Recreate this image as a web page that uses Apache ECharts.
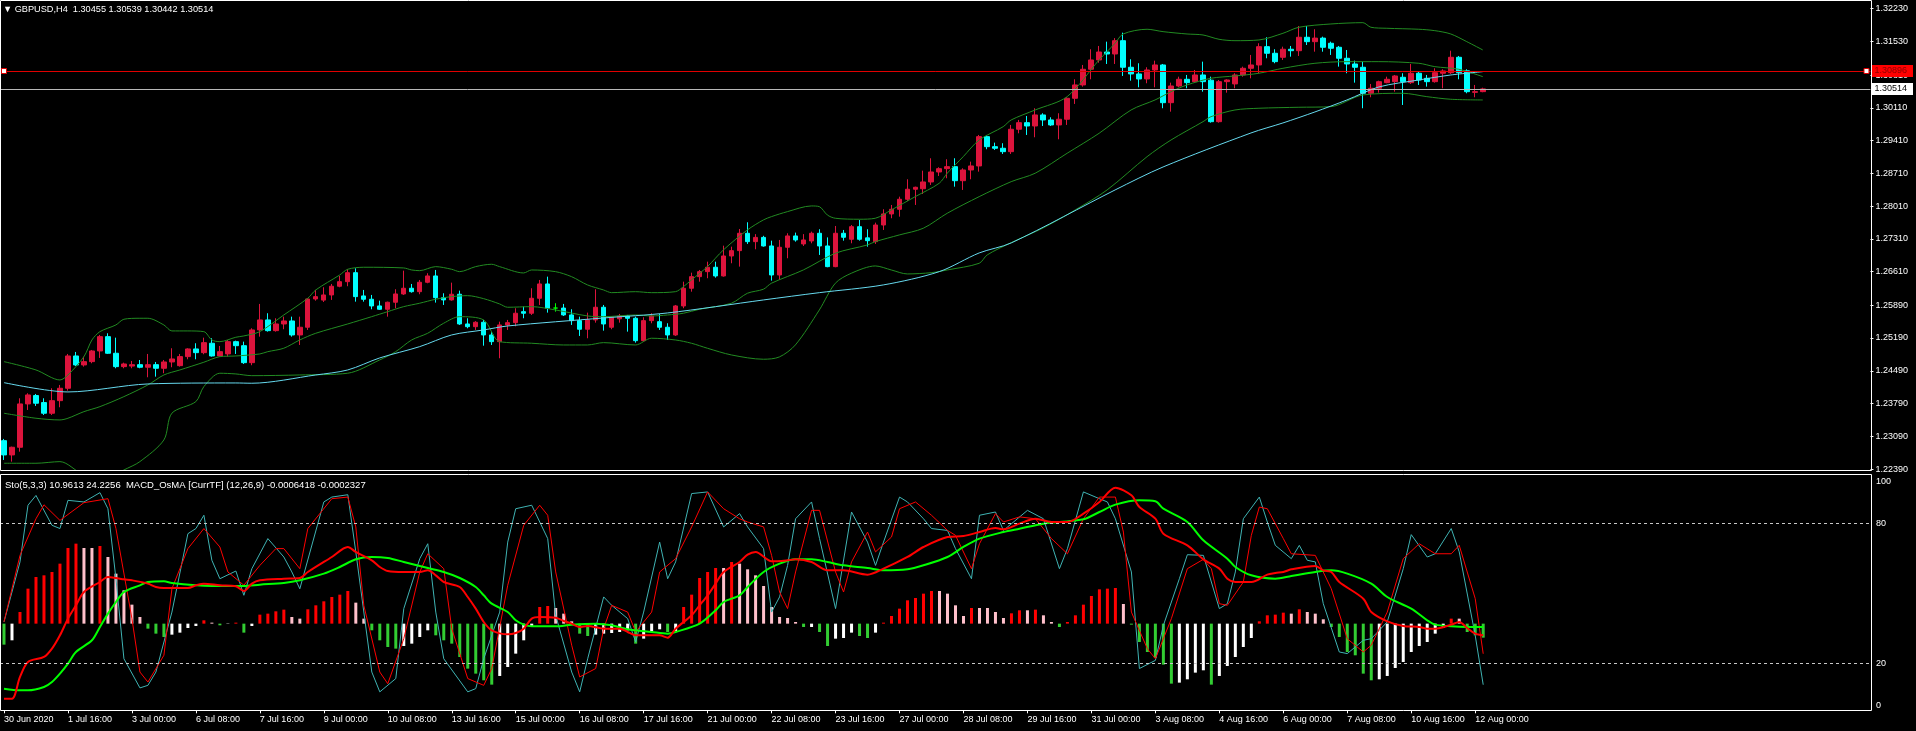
<!DOCTYPE html>
<html>
<head>
<meta charset="utf-8">
<title>GBPUSD,H4</title>
<script src="https://cdn.jsdelivr.net/npm/echarts@6.0.0/dist/echarts.min.js"></script>
<style>
html, body { margin: 0; padding: 0; background: #000; }
#chart { width: 1916px; height: 731px; }
</style>
</head>
<body>
<div id="chart"></div>
<script>
// GBPUSD H4 bars, 30 Jun 2020 08:00 .. 12 Aug 2020 04:00, [open, high, low, close]
var ohlc = [
  [1.22996,1.23033,1.22584,1.22691],[1.22691,1.22868,1.22548,1.22855],[1.22855,1.23902,1.22761,1.23781],[1.23781,1.24009,1.23652,1.23973],
  [1.23960,1.23994,1.23738,1.23796],[1.23810,1.23902,1.23545,1.23582],[1.23582,1.24116,1.23545,1.23851],[1.23851,1.24187,1.23710,1.24116],
  [1.24116,1.24849,1.24065,1.24806],[1.24806,1.24892,1.24590,1.24614],[1.24614,1.24792,1.24578,1.24685],[1.24685,1.24934,1.24650,1.24913],
  [1.24913,1.25255,1.24764,1.25219],[1.25219,1.25291,1.24849,1.24864],[1.24864,1.25197,1.24543,1.24578],[1.24578,1.24663,1.24543,1.24635],
  [1.24590,1.24699,1.24543,1.24620],[1.24620,1.24720,1.24543,1.24565],[1.24565,1.24849,1.24351,1.24620],[1.24620,1.24678,1.24364,1.24543],
  [1.24543,1.24720,1.24437,1.24678],[1.24678,1.24971,1.24565,1.24742],[1.24599,1.24849,1.24578,1.24792],[1.24792,1.24971,1.24735,1.24956],
  [1.24956,1.25078,1.24735,1.24877],[1.24877,1.25197,1.24843,1.25091],[1.25078,1.25184,1.24792,1.24806],[1.24806,1.25020,1.24792,1.24898],
  [1.24850,1.25148,1.24792,1.25112],[1.25112,1.25133,1.24849,1.25026],[1.25026,1.25112,1.24635,1.24663],[1.24663,1.25398,1.24608,1.25362],
  [1.25362,1.25918,1.25219,1.25576],[1.25576,1.25719,1.25326,1.25347],[1.25347,1.25612,1.25326,1.25490],[1.25490,1.25646,1.25377,1.25554],
  [1.25554,1.25646,1.25219,1.25255],[1.25255,1.25646,1.25041,1.25420],[1.25420,1.26039,1.25362,1.26024],[1.26024,1.26217,1.25988,1.26074],
  [1.26000,1.26274,1.25960,1.26110],[1.26110,1.26345,1.26004,1.26296],[1.26296,1.26516,1.26274,1.26394],[1.26394,1.26659,1.26296,1.26586],
  [1.26586,1.26680,1.25967,1.26074],[1.26089,1.26217,1.25967,1.26018],[1.26018,1.26110,1.25804,1.25875],[1.25875,1.25988,1.25789,1.25804],
  [1.25804,1.25967,1.25646,1.25954],[1.25954,1.26232,1.25825,1.26131],[1.26131,1.26629,1.26110,1.26253],[1.26253,1.26345,1.26159,1.26180],
  [1.26180,1.26430,1.26125,1.26381],[1.26381,1.26574,1.26360,1.26516],[1.26516,1.26644,1.25946,1.26052],[1.26052,1.26146,1.25896,1.26004],
  [1.26004,1.26373,1.25988,1.26125],[1.26125,1.26202,1.25469,1.25490],[1.25490,1.25612,1.25398,1.25432],[1.25432,1.25550,1.25362,1.25526],
  [1.25526,1.25576,1.25026,1.25255],[1.25255,1.25326,1.25041,1.25112],[1.25112,1.25539,1.24757,1.25469],[1.25469,1.25576,1.25362,1.25518],
  [1.25518,1.25826,1.25440,1.25719],[1.25753,1.25860,1.25612,1.25719],[1.25719,1.26253,1.25683,1.26039],[1.26039,1.26430,1.25896,1.26345],
  [1.26345,1.26501,1.25732,1.25826],[1.25830,1.25933,1.25753,1.25830],[1.25830,1.25918,1.25661,1.25683],[1.25683,1.25804,1.25469,1.25561],
  [1.25561,1.25646,1.25234,1.25377],[1.25377,1.25732,1.25184,1.25576],[1.25576,1.26232,1.25518,1.25847],[1.25847,1.25896,1.25347,1.25490],
  [1.25420,1.25646,1.25377,1.25633],[1.25600,1.25704,1.25518,1.25661],[1.25661,1.25683,1.25326,1.25612],[1.25612,1.25646,1.25091,1.25133],
  [1.25133,1.25633,1.25112,1.25561],[1.25561,1.25719,1.25505,1.25661],[1.25539,1.25704,1.25362,1.25420],[1.25420,1.25505,1.25148,1.25255],
  [1.25255,1.25896,1.25234,1.25875],[1.25875,1.26394,1.25826,1.26253],[1.26253,1.26586,1.26180,1.26501],[1.26501,1.26644,1.26394,1.26608],
  [1.26608,1.26821,1.26467,1.26702],[1.26702,1.26821,1.26480,1.26516],[1.26516,1.27163,1.26501,1.26943],[1.26943,1.27142,1.26787,1.27057],
  [1.27057,1.27520,1.26715,1.27428],[1.27428,1.27663,1.27200,1.27249],[1.27249,1.27410,1.27086,1.27340],[1.27340,1.27374,1.27142,1.27157],
  [1.27157,1.27270,1.26416,1.26537],[1.26537,1.27285,1.26430,1.27129],[1.27129,1.27428,1.26894,1.27371],[1.27371,1.27442,1.27249,1.27285],
  [1.27200,1.27410,1.27157,1.27285],[1.27264,1.27463,1.27214,1.27428],[1.27428,1.27514,1.26965,1.27157],[1.27157,1.27340,1.26702,1.26715],
  [1.26715,1.27584,1.26702,1.27428],[1.27428,1.27499,1.27270,1.27343],[1.27300,1.27605,1.27214,1.27569],[1.27569,1.27713,1.27270,1.27300],
  [1.27330,1.27514,1.27142,1.27270],[1.27249,1.27655,1.27200,1.27605],[1.27605,1.27941,1.27499,1.27841],[1.27841,1.28033,1.27749,1.27941],
  [1.27941,1.28210,1.27783,1.28155],[1.28155,1.28582,1.28119,1.28369],[1.28369,1.28424,1.28033,1.28411],[1.28380,1.28766,1.28268,1.28525],
  [1.28525,1.29031,1.28461,1.28738],[1.28738,1.28839,1.28653,1.28809],[1.28809,1.29010,1.28604,1.28852],[1.28852,1.29031,1.28424,1.28552],
  [1.28552,1.28817,1.28354,1.28781],[1.28781,1.28959,1.28582,1.28867],[1.28867,1.29529,1.28745,1.29493],[1.29493,1.29529,1.29224,1.29279],
  [1.29279,1.29365,1.29209,1.29245],[1.29245,1.29352,1.29123,1.29172],[1.29172,1.29743,1.29123,1.29651],[1.29651,1.29850,1.29565,1.29792],
  [1.29792,1.29935,1.29529,1.29721],[1.29721,1.30100,1.29480,1.29957],[1.29957,1.29993,1.29721,1.29850],[1.29850,1.29907,1.29721,1.29743],
  [1.29743,1.29993,1.29437,1.29865],[1.29865,1.30335,1.29743,1.30313],[1.30313,1.30719,1.30192,1.30598],[1.30598,1.31025,1.30562,1.30933],
  [1.30933,1.31361,1.30719,1.31132],[1.31132,1.31431,1.31074,1.31302],[1.31302,1.31523,1.31046,1.31260],[1.31260,1.31599,1.31046,1.31544],
  [1.31544,1.31715,1.30790,1.30976],[1.30976,1.31147,1.30689,1.30833],[1.30833,1.31061,1.30548,1.30726],[1.30726,1.30976,1.30634,1.30918],
  [1.30918,1.31117,1.30548,1.31025],[1.31025,1.31046,1.30100,1.30219],[1.30219,1.30647,1.30027,1.30576],[1.30576,1.30775,1.30548,1.30719],
  [1.30719,1.30811,1.30527,1.30647],[1.30668,1.30918,1.30640,1.30811],[1.30811,1.31096,1.30454,1.30668],[1.30700,1.30775,1.29792,1.29813],
  [1.29813,1.30704,1.29792,1.30668],[1.30668,1.30719,1.30433,1.30704],[1.30620,1.30848,1.30527,1.30811],[1.30811,1.30989,1.30775,1.30954],
  [1.30954,1.31239,1.30740,1.31025],[1.31025,1.31489,1.30848,1.31416],[1.31416,1.31617,1.31168,1.31275],[1.31275,1.31361,1.31061,1.31096],
  [1.31189,1.31416,1.31132,1.31361],[1.31361,1.31431,1.31202,1.31330],[1.31330,1.31858,1.31217,1.31617],[1.31617,1.31858,1.31452,1.31523],
  [1.31523,1.31788,1.31309,1.31599],[1.31599,1.31630,1.31309,1.31403],[1.31489,1.31523,1.31239,1.31382],[1.31403,1.31431,1.30989,1.31168],
  [1.31168,1.31345,1.30848,1.31046],[1.31046,1.31117,1.30647,1.30976],[1.30976,1.31096,1.30100,1.30420],[1.30420,1.30619,1.30335,1.30527],
  [1.30527,1.30689,1.30433,1.30668],[1.30647,1.30775,1.30634,1.30719],[1.30668,1.30811,1.30454,1.30790],[1.30762,1.30848,1.30170,1.30668],
  [1.30647,1.31046,1.30619,1.30848],[1.30848,1.30882,1.30598,1.30704],[1.30740,1.30811,1.30562,1.30668],[1.30668,1.30954,1.30647,1.30860],
  [1.30848,1.30933,1.30527,1.30897],[1.30860,1.31330,1.30833,1.31189],[1.31189,1.31217,1.30719,1.30860],[1.30900,1.30933,1.30420,1.30454],
  [1.30440,1.30598,1.30335,1.30455],[1.30455,1.30539,1.30442,1.30514]
];

// Bollinger bands and moving average, [bar, price]
var bbUpper = [[0,1.24685],[4,1.24507],[7,1.24293],[8,1.24400],[10,1.24791],[11,1.25148],[12,1.25326],[14,1.25469],[15,1.25591],[17,1.25612],[18,1.25612],[20,1.25469],[21,1.25341],[23,1.25341],[25,1.25326],[26,1.25148],[27,1.25112],[29,1.25206],[30,1.25234],[32,1.25326],[35,1.25682],[38,1.26039],[39,1.26217],[42,1.26537],[43,1.26659],[45,1.26702],[50,1.26687],[51,1.26644],[52,1.26629],[54,1.26715],[56,1.26659],[57,1.26608],[59,1.26715],[61,1.26766],[62,1.26715],[65,1.26580],[66,1.26644],[69,1.26608],[71,1.26501],[73,1.26324],[75,1.26217],[76,1.26159],[79,1.26180],[81,1.26159],[84,1.26180],[85,1.26287],[86,1.26430],[88,1.26715],[90,1.27072],[93,1.27499],[95,1.27713],[96,1.27783],[98,1.27890],[101,1.28012],[102,1.27997],[103,1.27819],[104,1.27749],[107,1.27728],[109,1.27749],[111,1.27926],[114,1.28211],[117,1.28497],[118,1.28711],[120,1.29065],[122,1.29422],[125,1.29706],[126,1.29850],[129,1.30063],[133,1.30348],[137,1.31132],[139,1.31489],[140,1.31687],[143,1.31788],[145,1.31737],[148,1.31687],[150,1.31666],[152,1.31574],[154,1.31544],[157,1.31559],[160,1.31702],[162,1.31831],[166,1.31901],[170,1.31929],[171,1.31831],[173,1.31809],[177,1.31788],[179,1.31758],[181,1.31687],[183,1.31523],[185,1.31346]];
var bbMiddle = [[0,1.23582],[4,1.23475],[7,1.23439],[8,1.23475],[10,1.23616],[12,1.23723],[15,1.23937],[18,1.24187],[20,1.24400],[22,1.24507],[25,1.24672],[27,1.24791],[29,1.24806],[32,1.24849],[33,1.24898],[35,1.24971],[37,1.25148],[39,1.25291],[43,1.25490],[46,1.25646],[48,1.25753],[50,1.25860],[52,1.25933],[54,1.26018],[56,1.26074],[58,1.26095],[60,1.26031],[62,1.25918],[63,1.25847],[66,1.25860],[69,1.25789],[73,1.25661],[75,1.25646],[79,1.25682],[81,1.25661],[83,1.25682],[85,1.25719],[87,1.25804],[91,1.25933],[93,1.26146],[95,1.26232],[96,1.26360],[100,1.26644],[104,1.27001],[108,1.27178],[109,1.27249],[112,1.27392],[115,1.27535],[118,1.27856],[122,1.28211],[126,1.28531],[129,1.28711],[133,1.29138],[137,1.29565],[141,1.30063],[144,1.30277],[146,1.30454],[148,1.30598],[151,1.30741],[154,1.30790],[157,1.30848],[160,1.30954],[164,1.31061],[168,1.31096],[172,1.31096],[177,1.31061],[179,1.30989],[182,1.30933],[185,1.30775]];
var bbLower = [[0,1.22513],[4,1.22513],[7,1.22548],[10,1.22263],[13,1.22200],[15,1.22370],[17,1.22548],[20,1.23011],[21,1.23582],[24,1.23830],[25,1.24150],[27,1.24437],[29,1.24422],[31,1.24385],[37,1.24400],[43,1.24437],[47,1.24721],[49,1.24898],[51,1.25148],[53,1.25291],[55,1.25505],[57,1.25646],[60,1.25576],[62,1.25112],[66,1.25078],[70,1.25041],[73,1.25041],[75,1.25091],[79,1.25041],[81,1.25185],[84,1.25148],[86,1.25078],[88,1.24971],[91,1.24828],[95,1.24736],[97,1.24785],[99,1.25041],[102,1.25789],[104,1.26360],[106,1.26574],[109,1.26730],[111,1.26644],[113,1.26559],[116,1.26586],[118,1.26644],[122,1.26787],[123,1.26965],[126,1.27228],[130,1.27542],[134,1.27926],[138,1.28354],[143,1.29065],[146,1.29422],[150,1.29813],[151,1.29920],[154,1.30063],[157,1.30100],[162,1.30121],[166,1.30134],[170,1.30384],[175,1.30420],[178,1.30348],[181,1.30292],[185,1.30277]];
var maLine = [[0,1.24236],[8,1.24037],[18,1.24208],[29,1.24229],[31,1.24223],[39,1.24400],[43,1.24507],[47,1.24764],[52,1.25005],[56,1.25255],[60,1.25362],[63,1.25447],[75,1.25618],[83,1.25725],[95,1.26003],[102,1.26159],[110,1.26324],[117,1.26608],[122,1.27008],[126,1.27221],[139,1.28354],[145,1.28845],[156,1.29572],[160,1.29786],[164,1.30021],[168,1.30277],[172,1.30555],[177,1.30704],[181,1.30811],[185,1.30882]];

// MACD_OsMA window, in the indicator's own (unscaled) units
var osma = [-63,-50,35,105,140,145,155,180,227,240,227,227,233,200,150,100,57,20,-15,-30,-40,-33,-27,-13,-7,10,3,-5,-1,3,-27,-7,27,30,37,42,20,15,43,55,67,80,87,98,63,15,-20,-50,-70,-75,-67,-60,-40,-20,-35,-50,-60,-100,-135,-150,-170,-183,-157,-130,-90,-50,-10,50,53,47,30,7,-30,-37,-33,-30,-28,-25,-20,-60,-45,-23,-17,-25,-23,50,87,137,155,167,167,185,180,163,145,113,50,20,17,5,-10,-10,-25,-67,-45,-43,-27,-37,-43,-27,3,23,45,70,77,90,98,98,90,55,23,47,47,47,35,17,31,40,40,42,25,5,-10,5,25,57,83,103,105,107,59,-3,-55,-85,-103,-123,-180,-177,-167,-147,-140,-183,-157,-127,-100,-70,-43,7,25,27,33,30,43,35,30,13,-10,-40,-85,-95,-150,-170,-167,-157,-133,-115,-85,-67,-55,-30,-13,15,15,-25,-35,-42];
var macdMain = [[0,-225],[1,-225],[2,-160],[3,-115],[5,-100],[6,-75],[7,-35],[8,15],[9,55],[10,95],[12,125],[13,140],[14,137],[15,133],[16,130],[18,120],[19,110],[20,107],[23,107],[24,115],[25,120],[27,115],[29,112],[30,98],[31,120],[32,130],[35,135],[37,137],[38,155],[41,200],[43,230],[44,215],[46,190],[47,170],[48,158],[50,155],[52,155],[53,160],[54,145],[55,125],[57,110],[58,80],[59,45],[60,5],[61,-20],[63,-32],[64,-28],[65,-15],[66,15],[67,20],[69,18],[70,8],[71,0],[72,-10],[73,-7],[75,-15],[77,-15],[78,-25],[79,-35],[82,-35],[83,-42],[84,-15],[86,25],[87,55],[88,85],[89,120],[90,155],[92,185],[93,207],[94,215],[96,187],[98,190],[99,193],[101,185],[103,160],[105,160],[108,147],[110,165],[113,200],[115,230],[118,260],[120,263],[122,275],[124,287],[125,283],[127,300],[129,315],[131,305],[133,305],[135,330],[137,365],[139,408],[141,385],[142,350],[144,315],[145,270],[148,235],[150,193],[152,165],[153,135],[154,125],[156,125],[158,147],[159,152],[160,155],[161,163],[164,173],[165,160],[166,155],[167,125],[170,75],[171,35],[173,7],[175,-7],[177,-10],[178,-15],[179,-15],[181,-3],[182,5],[183,-13],[184,-30],[185,-35]];
var macdSignal = [[0,-195],[2,-200],[3,-200],[5,-190],[6,-175],[7,-150],[8,-120],[9,-85],[11,-50],[12,-10],[13,30],[14,65],[15,95],[17,115],[18,125],[20,127],[21,122],[24,115],[26,113],[30,113],[32,117],[35,122],[37,130],[40,150],[42,170],[44,193],[46,200],[48,197],[50,185],[53,167],[55,155],[57,137],[59,110],[60,85],[61,60],[63,35],[64,10],[65,-3],[66,-8],[69,-8],[71,-3],[74,0],[76,-5],[78,-17],[81,-25],[83,-30],[84,-25],[87,0],[89,40],[90,65],[92,85],[93,110],[95,155],[97,180],[99,193],[101,193],[103,185],[105,175],[108,167],[110,160],[113,163],[115,175],[118,200],[120,230],[122,255],[125,275],[127,285],[130,300],[132,305],[135,313],[137,335],[139,357],[142,370],[144,367],[145,345],[148,305],[150,250],[153,195],[154,170],[156,145],[159,135],[161,143],[164,155],[166,160],[168,150],[171,120],[173,80],[176,45],[178,10],[179,-3],[181,-8],[183,-10],[185,-10]];

// Stochastic (5,3,3)
var stochMain = [[0,37.9],[2,63.6],[3,87.9],[4,92.1],[6,79.3],[7,77.9],[8,90],[10,89.3],[12,93.3],[13,86.4],[14,56.4],[15,22.1],[17,9.6],[18,10.7],[19,16.4],[21,42.1],[23,75.7],[24,77.9],[25,83.6],[26,64.3],[27,56.4],[29,59.7],[30,49.3],[31,60.7],[33,73.6],[35,65.7],[36,59.3],[37,52.1],[40,89.3],[41,91.4],[43,92.4],[44,67.9],[46,16.4],[47,7.9],[49,13.6],[50,43.6],[52,65],[53,71.4],[54,42.1],[55,22.1],[58,7.9],[59,9.3],[60,22.1],[62,42.1],[63,72.1],[64,86.4],[66,87.9],[68,73.6],[69,40.7],[71,16.4],[72,7.9],[73,22.1],[75,48.6],[76,45],[78,39.3],[79,29.3],[80,42.1],[82,72.1],[83,56.4],[84,63.6],[86,92.9],[88,93.6],[90,78.6],[92,84.3],[93,78.6],[95,69.3],[96,42.1],[97,48.6],[98,62.1],[99,82.1],[101,89.3],[102,73.6],[104,43.6],[106,85],[108,72.1],[109,62.1],[110,72.1],[112,91.4],[113,89.3],[115,82.1],[116,77.9],[118,77.1],[119,69.3],[121,56.4],[122,83.6],[124,85],[125,77.1],[128,85.7],[130,82.1],[132,60.7],[133,69.3],[135,93.6],[137,90.7],[138,89.3],[139,82.1],[141,59.3],[142,17.9],[144,21.4],[145,36.4],[147,56.4],[148,66.7],[150,66.4],[152,43.6],[153,45.7],[154,59.3],[155,82.1],[157,91.4],[158,80.7],[159,70.7],[161,65],[162,70.7],[163,64.3],[164,63.6],[165,45.7],[167,25],[168,24.3],[170,30],[171,30.7],[173,37.9],[175,60.7],[176,75.3],[178,65.7],[179,67.1],[181,77.9],[182,67.9],[184,32.1],[185,10.96]];
var stochSignal = [[0,37.9],[2,66.4],[4,82.1],[5,88.1],[7,81.4],[10,89],[13,90.7],[14,77.9],[16,39.3],[17,16.4],[18,12.1],[20,23.6],[21,52.1],[23,69.3],[25,77.9],[27,70],[28,59.3],[30,53.6],[32,62.1],[34,69.3],[35,69.3],[37,60.7],[38,77.9],[41,90.7],[43,91.4],[44,78.6],[45,45],[47,16.4],[48,11.4],[50,30.7],[52,59.3],[53,67.1],[55,60.7],[56,35],[58,13.6],[60,10.7],[61,17.9],[63,53.6],[65,79.3],[67,87.9],[68,83.6],[69,59.3],[71,27.9],[72,14.3],[74,17.9],[75,35],[76,45],[78,42.1],[79,33.6],[81,42.1],[82,59.3],[84,65],[86,78.6],[88,93.6],[90,86.4],[92,82.1],[93,80.7],[95,78.6],[96,66.4],[97,50.7],[98,43.6],[99,59.3],[101,85.7],[102,85.7],[104,59.3],[105,50.7],[106,63.6],[108,76.4],[109,67.9],[111,74.3],[112,86.4],[114,89.3],[116,83.6],[118,77.1],[119,75],[121,60.7],[122,71.4],[124,84.3],[125,80.7],[127,82.9],[129,82.1],[131,73.6],[133,67.1],[135,82.1],[137,91.4],[139,91.4],[140,76.4],[141,42.1],[143,26.4],[144,22.1],[146,39.3],[148,60.7],[150,64.7],[151,60.7],[152,45.7],[153,45],[155,55],[156,75],[157,87.1],[158,86.4],[160,73.6],[161,67.1],[164,66.4],[166,52.1],[168,30.7],[170,25],[171,27.9],[173,42.1],[175,65],[177,71.4],[179,67.1],[181,67.1],[182,70.7],[184,47.9],[185,24.23]];

var timeLabels = ['30 Jun 2020','1 Jul 16:00','3 Jul 00:00','6 Jul 08:00','7 Jul 16:00','9 Jul 00:00','10 Jul 08:00','13 Jul 16:00',
  '15 Jul 00:00','16 Jul 08:00','17 Jul 16:00','21 Jul 00:00','22 Jul 08:00','23 Jul 16:00','27 Jul 00:00','28 Jul 08:00',
  '29 Jul 16:00','31 Jul 00:00','3 Aug 08:00','4 Aug 16:00','6 Aug 00:00','7 Aug 08:00','10 Aug 16:00','12 Aug 00:00'];
var priceTicks = [1.32230,1.31530,1.30810,1.30110,1.29410,1.28710,1.28010,1.27310,1.26610,1.25890,1.25190,1.24490,1.23790,1.23090,1.22390];
var stochTicks = [0, 20, 80, 100];
var stochLevels = [80, 20];
var levelLine = 1.30896;
var bidLine = 1.30514;

var SLOTS = 234;          // bars that fit in the window incl. empty space on the right
var BARS_PER_LABEL = 8;
var PRICE_MIN = 1.22369, PRICE_MAX = 1.32392;
var cats = [];
for (var i = 0; i < SLOTS; i++) cats.push(String(i));

var candles = ohlc.map(function (d) { return [d[0], d[3], d[2], d[1]]; });
var last = ohlc[ohlc.length - 1];

var osmaBars = osma.map(function (v, i) {
    var prev = i > 0 ? osma[i - 1] : 0;
    var c;
    if (v >= 0) c = v > prev ? '#FF0000' : '#FFC0CB';
    else c = v < prev ? '#32CD32' : '#FFFFFF';
    return { value: v, itemStyle: { color: c } };
});

function labelShown(idx) {
    return idx % BARS_PER_LABEL === 0 && idx / BARS_PER_LABEL < timeLabels.length;
}

var font = '"Liberation Sans", Arial, sans-serif';

function priceLine(data, color) {
    return {
        type: 'line', xAxisIndex: 0, yAxisIndex: 0, data: data,
        smooth: 0.3, symbol: 'none', silent: true, z: 3,
        lineStyle: { color: color, width: 1 }
    };
}

// extra price axis that only draws one horizontal line with its price box
function hLineAxis(price, lineColor, boxColor, textColor) {
    return {
        type: 'value', gridIndex: 0, position: 'right', min: PRICE_MIN, max: PRICE_MAX, z: 10,
        axisLine: { show: false },
        axisTick: { show: false, customValues: [price] },
        splitLine: { show: true, lineStyle: { color: lineColor, width: 1, type: 'solid' } },
        axisLabel: {
            customValues: [price], margin: 1, color: textColor, backgroundColor: boxColor,
            padding: [2, 6, 1, 3], fontSize: 9, fontFamily: font,
            formatter: function (v) { return v.toFixed(5); }
        }
    };
}

var myChart = echarts.init(document.getElementById('chart'));

var option = {
    animation: false,
    backgroundColor: '#000',
    title: [
        {
            text: '\u25BC GBPUSD,H4  ' + last.map(function (v) { return v.toFixed(5); }).join(' '),
            left: 3, top: 5, padding: 0,
            textStyle: { color: '#fff', fontSize: 9.2, fontWeight: 'normal', fontFamily: font }
        },
        {
            text: 'Sto(5,3,3) 10.9613 24.2256  MACD_OsMA [CurrTF] (12,26,9) -0.0006418 -0.0002327',
            left: 5, top: 480, padding: 0,
            textStyle: { color: '#fff', fontSize: 9.5, fontWeight: 'normal', fontFamily: font }
        }
    ],
    grid: [
        { left: -1, top: 1, width: 1872, height: 469 },
        { left: -1, top: 477, width: 1872, height: 233.3 }
    ],
    xAxis: [
        { type: 'category', gridIndex: 0, data: cats, boundaryGap: true, show: false },
        {
            type: 'category', gridIndex: 1, data: cats, boundaryGap: true,
            axisLine: { show: false },
            axisTick: { show: true, alignWithLabel: true, interval: labelShown, length: 3, lineStyle: { color: '#fff' } },
            axisLabel: {
                interval: labelShown, color: '#fff', fontSize: 9, fontFamily: font, align: 'left', margin: 5,
                formatter: function (v, idx) { return timeLabels[idx / BARS_PER_LABEL] || ''; }
            },
            splitLine: { show: false }
        }
    ],
    yAxis: [
        {
            type: 'value', gridIndex: 0, position: 'right', min: PRICE_MIN, max: PRICE_MAX,
            axisLine: { show: false }, splitLine: { show: false },
            axisTick: { show: true, length: 3, customValues: priceTicks, lineStyle: { color: '#fff' } },
            axisLabel: {
                customValues: priceTicks, color: '#fff', fontSize: 9, fontFamily: font, margin: 5,
                formatter: function (v) { return v.toFixed(5); }
            }
        },
        {
            type: 'value', gridIndex: 1, position: 'right', min: 0, max: 100,
            axisLine: { show: false }, splitLine: { show: false }, axisTick: { show: false },
            axisLabel: {
                customValues: stochTicks, color: '#fff', fontSize: 9, fontFamily: font, margin: 5,
                verticalAlignMinLabel: 'bottom', verticalAlignMaxLabel: 'top'
            }
        },
        { type: 'value', gridIndex: 1, position: 'left', min: -260, max: 440, show: false },
        hLineAxis(bidLine, '#B8B8B8', '#FFFFFF', '#000000'),
        hLineAxis(levelLine, '#E00000', '#FF0000', '#8A0000')
    ],
    graphic: [
        { type: 'rect', silent: true, z: 100, shape: { x: 0.5, y: 0.5, width: 1871, height: 470 }, style: { fill: null, stroke: '#fff', lineWidth: 1 } },
        { type: 'rect', silent: true, z: 100, shape: { x: 0.5, y: 474.5, width: 1871, height: 236 }, style: { fill: null, stroke: '#fff', lineWidth: 1 } }
    ],
    series: [
        {
            type: 'candlestick', xAxisIndex: 0, yAxisIndex: 0, data: candles, barWidth: 5, z: 2,
            itemStyle: {
                color: '#DC143C', color0: '#00FFFF', borderColor: '#DC143C', borderColor0: '#00FFFF',
                borderColorDoji: '#00FF00', borderWidth: 1
            },
            markPoint: {
                silent: true, symbol: 'rect', symbolSize: [5, 5], z: 20,
                itemStyle: { color: '#fff', borderColor: '#E00000', borderWidth: 1 },
                label: { show: false },
                data: [{ coord: ['0', levelLine] }, { coord: [String(SLOTS - 1), levelLine] }]
            }
        },
        priceLine(bbUpper, '#228B22'),
        priceLine(bbMiddle, '#228B22'),
        priceLine(bbLower, '#228B22'),
        priceLine(maLine, '#66D9EE'),
        {
            type: 'line', xAxisIndex: 1, yAxisIndex: 1, data: stochMain,
            symbol: 'none', silent: true, lineStyle: { color: '#3FB3B3', width: 1 },
            markLine: {
                silent: true, symbol: 'none',
                lineStyle: { color: '#C8C8C8', width: 1, type: [3, 3] },
                label: { show: false },
                data: stochLevels.map(function (v) { return { yAxis: v }; })
            }
        },
        {
            type: 'line', xAxisIndex: 1, yAxisIndex: 1, data: stochSignal,
            symbol: 'none', silent: true, lineStyle: { color: '#FF0000', width: 1 }
        },
        {
            type: 'bar', xAxisIndex: 1, yAxisIndex: 2, data: osmaBars, barWidth: 3, silent: true
        },
        {
            type: 'line', xAxisIndex: 1, yAxisIndex: 2, data: macdSignal,
            smooth: 0.3, symbol: 'none', silent: true, lineStyle: { color: '#00FF00', width: 2 }
        },
        {
            type: 'line', xAxisIndex: 1, yAxisIndex: 2, data: macdMain,
            smooth: 0.3, symbol: 'none', silent: true, lineStyle: { color: '#FF0000', width: 2 }
        }
    ]
};

myChart.setOption(option);
</script>
</body>
</html>
